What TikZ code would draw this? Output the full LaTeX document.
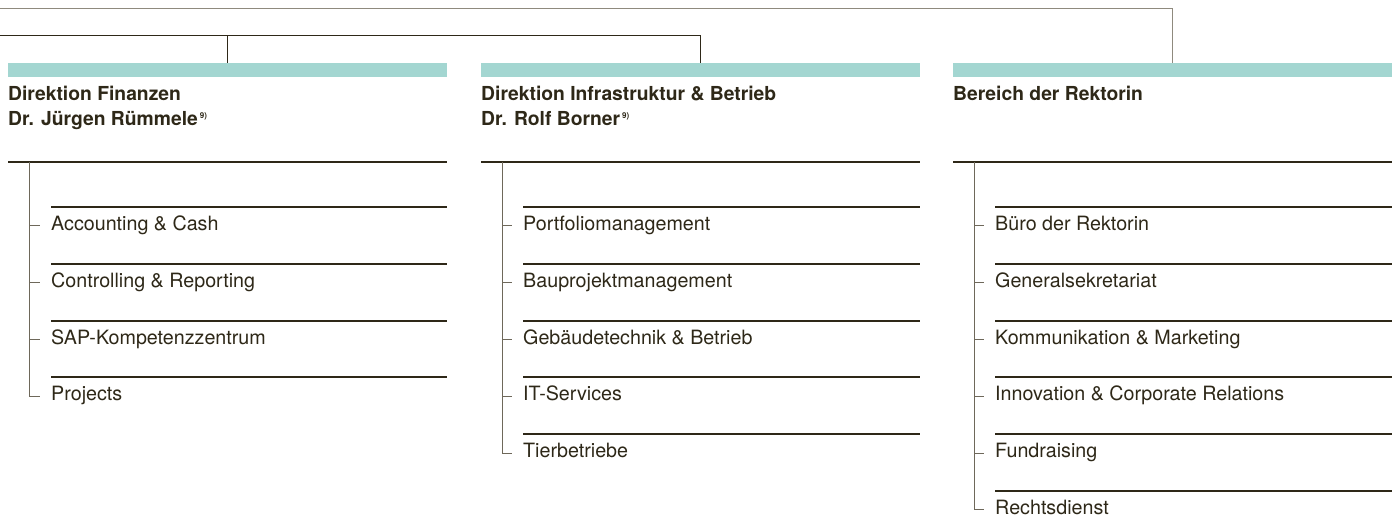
\documentclass[tikz,border=0pt]{standalone}
\usepackage{fontspec}
\setmainfont{TeX Gyre Heros}
\usetikzlibrary{positioning}
\definecolor{ink}{HTML}{2E2818}
\definecolor{barcol}{HTML}{A3D6D1}
\definecolor{stem}{HTML}{6E685A}
\definecolor{topgray}{HTML}{8F8A7E}
\newcommand{\fnnine}{\kern2pt\raisebox{6.5pt}{\fontsize{8}{8}\selectfont 9)}}

\begin{document}
\begin{tikzpicture}[x=1pt,y=-1pt,
    bar/.style={fill=barcol,draw=none,minimum width=439pt,minimum height=14pt,inner sep=0pt,anchor=north west},
    head/.style={anchor=base west,inner sep=0pt,text=ink,font=\bfseries\fontsize{19.3}{24}\selectfont},
    item/.style={anchor=base west,inner sep=0pt,text=ink,font=\fontsize{19.7}{24}\selectfont},
    rule/.style={draw=ink,line width=2pt},
    link/.style={draw=ink,line width=1pt},
    toplink/.style={draw=topgray,line width=1.3pt},
    tree/.style={draw=stem,line width=1pt}]
    % page
    \fill[white] (0,0) rectangle (1396,516);
    \useasboundingbox (0,0) rectangle (1396,516);

    % the three bars
    \node[bar] (bar1) at (8,63) {};
    \node[bar] (bar2) at (481,63) {};
    \node[bar] (bar3) at (953,63) {};

    % links from above
    \coordinate (lefttop) at (0,8.5);
    \coordinate (leftmid) at (0,36);
    \draw[toplink] (lefttop) -| (bar3.north);
    \draw[link] (leftmid) -| (bar2.north);
    \draw[link] (bar1.north) -- (bar1.north |- leftmid);

    % finanzen
    \node[head] (fin) at (8,101) {Direktion Finanzen};
    \node[head] (finname) at (8,125) {Dr. Jürgen Rümmele\fnnine};
    \draw[rule] (8,162) -- (447,162);
    \coordinate (fintop) at (29,162);
    \foreach \t [count=\i] in {Accounting \& Cash, Controlling \& Reporting, SAP-Kompetenzzentrum, Projects} {
        \draw[rule] (51,150.2+56.8*\i) -- (447,150.2+56.8*\i);
        \node[item] (fin\i) at (51,173.7+56.8*\i) {\t};
        \coordinate (fin\i t) at ([xshift=-11pt,yshift=2pt]fin\i.mid west);
        \draw[tree] (fintop |- fin\i t) -- (fin\i t);
    }
    \draw[tree] (fintop) -- (fintop |- fin4t);

    % infrastruktur
    \node[head] (inf) at (481,101) {Direktion Infrastruktur \& Betrieb};
    \node[head] (infname) at (481,125) {Dr. Rolf Borner\fnnine};
    \draw[rule] (481,162) -- (920,162);
    \coordinate (inftop) at (502,162);
    \foreach \t [count=\i] in {Portfoliomanagement, Bauprojektmanagement, Gebäudetechnik \& Betrieb, IT-Services, Tierbetriebe} {
        \draw[rule] (523,150.2+56.8*\i) -- (920,150.2+56.8*\i);
        \node[item] (inf\i) at (523,173.7+56.8*\i) {\t};
        \coordinate (inf\i t) at ([xshift=-11pt,yshift=2pt]inf\i.mid west);
        \draw[tree] (inftop |- inf\i t) -- (inf\i t);
    }
    \draw[tree] (inftop) -- (inftop |- inf5t);

    % rektorin
    \node[head] (rek) at (953,101) {Bereich der Rektorin};
    \draw[rule] (953,162) -- (1392,162);
    \coordinate (rektop) at (974,162);
    \foreach \t [count=\i] in {Büro der Rektorin, Generalsekretariat, Kommunikation \& Marketing, Innovation \& Corporate Relations, Fundraising, Rechtsdienst} {
        \draw[rule] (995,150.2+56.8*\i) -- (1392,150.2+56.8*\i);
        \node[item] (rek\i) at (995,173.7+56.8*\i) {\t};
        \coordinate (rek\i t) at ([xshift=-11pt,yshift=2pt]rek\i.mid west);
        \draw[tree] (rektop |- rek\i t) -- (rek\i t);
    }
    \draw[tree] (rektop) -- (rektop |- rek6t);
\end{tikzpicture}
\end{document}
